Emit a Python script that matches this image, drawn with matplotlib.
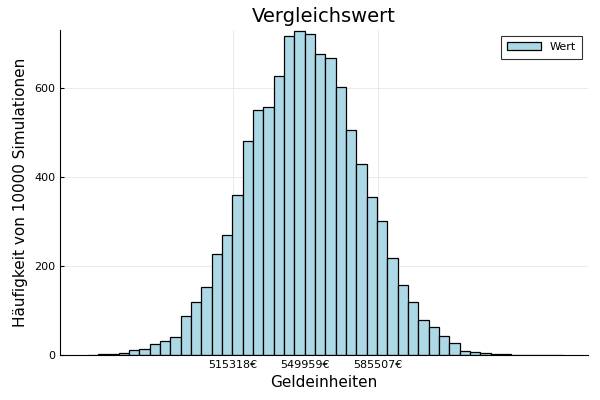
import numpy as np
import matplotlib.pyplot as plt

# bin left edges (5000 wide) and counts
bin_start = 445000
bin_width = 5000
counts = [1, 2, 3, 5, 11, 13, 25, 32, 41, 87, 120, 153, 227, 270,
          360, 480, 550, 558, 626, 717, 728, 722, 676, 668, 603, 506,
          429, 355, 301, 219, 158, 120, 79, 64, 42, 28, 8, 7, 5, 3, 3,
          1, 1, 1, 0, 1]
tick_vals = [515318, 549959, 585507]
tick_labels = ["515318€", "549959€", "585507€"]

edges = bin_start + bin_width * np.arange(len(counts))

fig = plt.figure(figsize=(6, 4), dpi=100)
ax = fig.add_axes([60/600, 45/400, 528/600, 325/400])
ax.bar(edges, counts, width=bin_width, align="edge", color="lightblue",
       edgecolor="black", linewidth=0.9, label="Wert")

ax.set_xlim(431600, 687100)
ax.set_ylim(0, 730)
ax.set_xticks(tick_vals)
ax.set_xticklabels(tick_labels)
ax.set_yticks([0, 200, 400, 600])
ax.grid(True, color="#e6e6e6", linewidth=0.6)
ax.set_axisbelow(True)
ax.tick_params(labelsize=8, length=3, direction="in")
for s in ["top", "right"]:
    ax.spines[s].set_visible(False)
ax.set_title("Vergleichswert", fontsize=14)
ax.set_xlabel("Geldeinheiten", fontsize=11)
ax.set_ylabel("Häufigkeit von 10000 Simulationen", fontsize=11)
leg = ax.legend(loc="upper right", fontsize=8, fancybox=False, edgecolor="black",
                borderpad=0.6, handlelength=3)
leg.get_frame().set_linewidth(0.8)

fig.savefig("out.png", dpi=100)
